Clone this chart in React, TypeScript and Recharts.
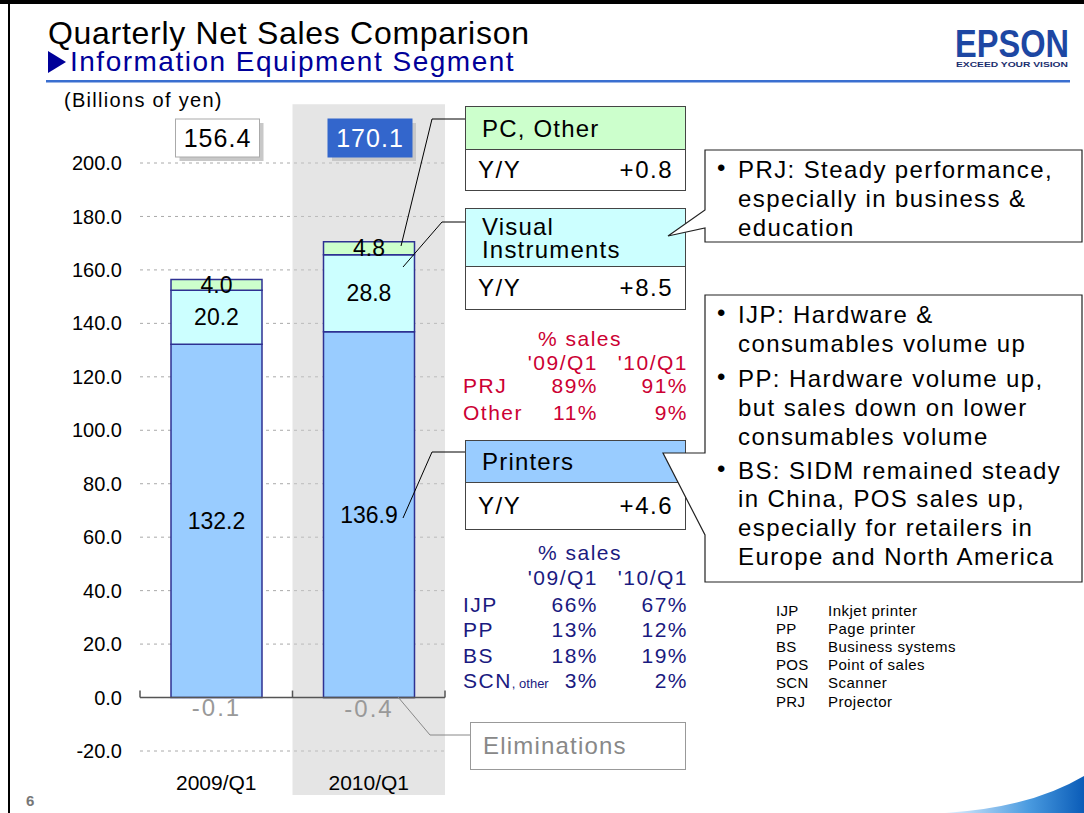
import {
  Bar,
  BarChart,
  CartesianGrid,
  LabelList,
  ReferenceArea,
  ReferenceLine,
  XAxis,
  YAxis,
} from 'recharts';

const quarters = ['2009/Q1', '2010/Q1'];
const printers = [132.2, 136.9];
const visual = [20.2, 28.8];
const pcOther = [4.0, 4.8];
const eliminations = [-0.1, -0.4];
const totals = [156.4, 170.1];
const yTicks = [-20, 0, 20, 40, 60, 80, 100, 120, 140, 160, 180, 200];

const segmentNames = ['PC, Other', 'Visual Instruments', 'Printers'];
const segmentYoY = ['+0.8', '+8.5', '+4.6'];

const shareCols = ["'09/Q1", "'10/Q1"];
const prjRows = ['PRJ', 'Other'];
const prj09 = ['89%', '11%'];
const prj10 = ['91%', '9%'];
const prnRows = ['IJP', 'PP', 'BS', 'SCN'];
const prn09 = ['66%', '13%', '18%', '3%'];
const prn10 = ['67%', '12%', '19%', '2%'];

const prjNotes = ['PRJ:  Steady performance,', 'especially in business &', 'education'];
const printerNotes = [
  ['IJP:  Hardware &', 'consumables volume up'],
  ['PP:  Hardware volume up,', 'but sales down on lower', 'consumables volume'],
  ['BS:  SIDM remained steady', 'in China, POS sales up,', 'especially for retailers in', 'Europe and North America'],
];

const abbrevs = ['IJP', 'PP', 'BS', 'POS', 'SCN', 'PRJ'];
const abbrevNames = ['Inkjet printer', 'Page printer', 'Business systems', 'Point of sales', 'Scanner', 'Projector'];

const data = quarters.map((quarter, i) => ({
  quarter,
  printers: printers[i],
  visual: visual[i],
  pcOther: pcOther[i],
  eliminations: eliminations[i],
  total: totals[i],
}));

const FONT = '"Liberation Sans", Arial, sans-serif';
const RED = '#cc0033';
const NAVY = '#1a1a80';

function Txt({ x, y, size, children, color = '#000', align = 'left', ls = 0, weight = 400 }: any) {
  const shift = align === 'right' ? 'translateX(-100%)' : align === 'center' ? 'translateX(-50%)' : undefined;
  return (
    <div
      style={{
        position: 'absolute',
        left: x,
        top: y - size / 2,
        fontSize: size,
        lineHeight: `${size}px`,
        color,
        letterSpacing: ls,
        fontWeight: weight,
        whiteSpace: 'nowrap',
        transform: shift,
        fontFamily: FONT,
      }}
    >
      {children}
    </div>
  );
}

function SegBox({ top, headH, rowH, fill, name, yoy }: any) {
  const lines = name === 'Visual Instruments' ? ['Visual', 'Instruments'] : [name];
  return (
    <div
      style={{
        position: 'absolute', left: 465, top, width: 221, height: headH + rowH,
        border: '1px solid #444', background: '#fff', boxSizing: 'border-box', fontFamily: FONT,
      }}
    >
      <div
        style={{
          height: headH - 1, background: fill, borderBottom: '1px solid #444', display: 'flex',
          flexDirection: 'column', justifyContent: 'center', paddingLeft: 16, fontSize: 24,
          lineHeight: '23px', letterSpacing: 1.2,
        }}
      >
        {lines.map((l) => <div key={l}>{l}</div>)}
      </div>
      <div
        style={{
          height: rowH - 2, display: 'flex', justifyContent: 'space-between', alignItems: 'center',
          padding: '0 12px', fontSize: 24, letterSpacing: 1.5,
        }}
      >
        <span>Y/Y</span>
        <span>{yoy}</span>
      </div>
    </div>
  );
}

// total box drawn above each stacked column
function TotalBox(props: any) {
  const { x, width, value } = props;
  const latest = value === totals[totals.length - 1];
  const cx = x + width / 2 + 1;
  const bx = cx - 42;
  return (
    <g>
      <rect x={bx + 4} y={123} width={84} height={38} fill="#c8c8c8" />
      <rect x={bx} y={119} width={84} height={38} fill={latest ? '#3366cc' : '#fff'} stroke={latest ? '#3366cc' : '#aaa'} />
      <text x={cx} y={147} textAnchor="middle" fontSize={25} letterSpacing={1} fill={latest ? '#fff' : '#000'} fontFamily={FONT}>
        {Number(value).toFixed(1)}
      </text>
    </g>
  );
}

function ElimLabel(props: any) {
  const { x, y, width, height, value } = props;
  const base = Math.max(y, y + height);
  return (
    <text x={x + width / 2} y={base + 18} textAnchor="middle" fontSize={24} letterSpacing={2} fill="#999" fontFamily={FONT}>
      {Number(value).toFixed(1)}
    </text>
  );
}

function AxisZero(props: any) {
  const { x1, y1, x2 } = props;
  const xm = (x1 + x2) / 2;
  return (
    <g stroke="#555" strokeWidth={1.5}>
      <line x1={x1} y1={y1} x2={x2} y2={y1} />
      {[x1, xm, x2].map((x) => <line key={x} x1={x} y1={y1} x2={x} y2={y1 - 7} />)}
    </g>
  );
}

export default function App() {
  const tick = { fill: '#000', fontSize: 20, fontFamily: FONT };
  const barStroke = { stroke: '#2e3192', strokeWidth: 1.5 };
  const barLabel = { fill: '#000', fontSize: 23, fontFamily: FONT };
  return (
    <div style={{ position: 'absolute', left: 0, top: 0, width: 1084, height: 813, background: '#fff', overflow: 'hidden', fontFamily: FONT }}>
      <div style={{ position: 'absolute', left: 0, top: 0 }}>
        <BarChart width={460} height={813} data={data} margin={{ top: 163, right: 15, bottom: 12, left: 40 }} stackOffset="sign" barSize={91}>
          <CartesianGrid vertical={false} stroke="#aaa" strokeDasharray="3 4" />
          {/* half-transparent band so the dashed grid still shows through it */}
          <ReferenceArea
            x1="2010/Q1"
            x2="2010/Q1"
            y1={-36.5}
            y2={222}
            fill="#cccccc"
            fillOpacity={0.5}
            stroke="none"
            ifOverflow="visible"
          />
          <XAxis dataKey="quarter" axisLine={false} tickLine={false} height={50} tickMargin={18} tick={{ ...tick, fontSize: 21 }} />
          <YAxis
            domain={[-20, 200]}
            ticks={yTicks}
            interval={0}
            width={100}
            axisLine={false}
            tickLine={false}
            tickMargin={12}
            tickFormatter={(v: number) => v.toFixed(1)}
            tick={tick}
          />
          <Bar dataKey="printers" stackId="s" fill="#99ccff" {...barStroke} isAnimationActive={false}>
            <LabelList dataKey="printers" position="center" formatter={(v: any) => Number(v).toFixed(1)} style={barLabel} />
          </Bar>
          <Bar dataKey="visual" stackId="s" fill="#ccffff" {...barStroke} isAnimationActive={false}>
            <LabelList dataKey="visual" position="center" formatter={(v: any) => Number(v).toFixed(1)} style={barLabel} />
          </Bar>
          <Bar dataKey="pcOther" stackId="s" fill="#ccffcc" {...barStroke} isAnimationActive={false}>
            <LabelList dataKey="pcOther" position="center" formatter={(v: any) => Number(v).toFixed(1)} style={barLabel} />
            <LabelList dataKey="total" content={TotalBox} />
          </Bar>
          <Bar dataKey="eliminations" stackId="s" fill="#999" isAnimationActive={false}>
            <LabelList dataKey="eliminations" content={ElimLabel} />
          </Bar>
          <ReferenceLine y={0} stroke="#555" shape={AxisZero} />
        </BarChart>
      </div>

      <svg width={1084} height={813} style={{ position: 'absolute', left: 0, top: 0, pointerEvents: 'none' }}>
        <defs>
          <linearGradient id="swoosh" x1="0" y1="0" x2="1" y2="0">
            <stop offset="0" stopColor="#e4f1ff" />
            <stop offset="0.6" stopColor="#4a9be0" />
            <stop offset="1" stopColor="#0a5cb8" />
          </linearGradient>
        </defs>
        <rect x={0} y={0} width={1084} height={4} fill="#000" />
        <rect x={8} y={0} width={2} height={813} fill="#000" />
        <rect x={46} y={80} width={1024} height={2.5} fill="#3a6fd0" />
        <polygon points="48,51 48,73 66,62" fill="#000099" />
        <text x={955} y={57} fontSize={38} fontWeight={900} fill="#1d47a3" textLength={114} lengthAdjust="spacingAndGlyphs" fontFamily={FONT}>EPSON</text>
        <text x={956} y={67} fontSize={7} fontWeight={700} fill="#1a2e6e" textLength={112} lengthAdjust="spacingAndGlyphs" fontFamily={FONT}>EXCEED YOUR VISION</text>
        <path d="M 945 813 Q 1030 808 1084 776 L 1084 813 Z" fill="url(#swoosh)" />

        <g stroke="#000" strokeWidth={1} fill="none">
          <polyline points="401,246 432,119 465,119" />
          <polyline points="403,267 442,222 465,222" />
          <polyline points="403,518 432,452 465,452" />
        </g>
        <polyline points="398,697 430,735 470,735" stroke="#888" strokeWidth={1} fill="none" />
      </svg>

      <Txt x={48} y={33} size={32} ls={0.7}>Quarterly Net Sales Comparison</Txt>
      <Txt x={70} y={62} size={28} ls={1.5} color="#000099">Information Equipment Segment</Txt>
      <Txt x={64} y={100} size={20} ls={1.3}>(Billions of yen)</Txt>
      <Txt x={26} y={800} size={15} weight={700} color="#777">6</Txt>

      <SegBox top={106} headH={43} rowH={42} fill="#ccffcc" name={segmentNames[0]} yoy={segmentYoY[0]} />
      <SegBox top={208} headH={58} rowH={44} fill="#ccffff" name={segmentNames[1]} yoy={segmentYoY[1]} />
      <SegBox top={440} headH={42} rowH={48} fill="#99ccff" name={segmentNames[2]} yoy={segmentYoY[2]} />
      <div
        style={{
          position: 'absolute', left: 470, top: 722, width: 216, height: 48, border: '1px solid #999',
          boxSizing: 'border-box', background: '#fff',
        }}
      />
      <Txt x={483} y={746} size={24} ls={1.2} color="#888">Eliminations</Txt>

      {/* callouts sit above the segment boxes so their tails show */}
      <svg width={1084} height={813} style={{ position: 'absolute', left: 0, top: 0, pointerEvents: 'none' }}>
        <path d="M705,150 H1082 V242 H705 V228 L668,236 L705,210 Z" fill="#fff" stroke="#222" strokeWidth={1.2} />
        <path d="M705,295 H1082 V582 H705 V535 L663,453 L705,453 Z" fill="#fff" stroke="#222" strokeWidth={1.2} />
      </svg>

      <Txt x={580} y={338} size={21} ls={1.5} color={RED} align="center">% sales</Txt>
      <Txt x={598} y={362} size={21} ls={1.5} color={RED} align="right">{shareCols[0]}</Txt>
      <Txt x={688} y={362} size={21} ls={1.5} color={RED} align="right">{shareCols[1]}</Txt>
      {prjRows.map((r, i) => (
        <div key={r}>
          <Txt x={463} y={385 + i * 27} size={21} ls={1.5} color={RED}>{r}</Txt>
          <Txt x={598} y={385 + i * 27} size={21} ls={1.5} color={RED} align="right">{prj09[i]}</Txt>
          <Txt x={688} y={385 + i * 27} size={21} ls={1.5} color={RED} align="right">{prj10[i]}</Txt>
        </div>
      ))}

      <Txt x={580} y={552} size={21} ls={1.5} color={NAVY} align="center">% sales</Txt>
      <Txt x={598} y={577} size={21} ls={1.5} color={NAVY} align="right">{shareCols[0]}</Txt>
      <Txt x={688} y={577} size={21} ls={1.5} color={NAVY} align="right">{shareCols[1]}</Txt>
      {prnRows.map((r, i) => (
        <div key={r}>
          <Txt x={463} y={604 + i * 25.5} size={21} ls={1.5} color={NAVY}>
            {r}
            {r === 'SCN' && <span style={{ fontSize: 13, letterSpacing: 0 }}>, other</span>}
          </Txt>
          <Txt x={598} y={604 + i * 25.5} size={21} ls={1.5} color={NAVY} align="right">{prn09[i]}</Txt>
          <Txt x={688} y={604 + i * 25.5} size={21} ls={1.5} color={NAVY} align="right">{prn10[i]}</Txt>
        </div>
      ))}

      {prjNotes.map((l, i) => (
        <Txt key={l} x={738} y={170 + i * 29} size={24} ls={1.4}>{l}</Txt>
      ))}
      <Txt x={717} y={168} size={24}>•</Txt>

      {(() => {
        let row = 0;
        return printerNotes.map((group) =>
          group.map((l, j) => {
            const y = 315 + row * 28.9 + (row >= 2 ? 6 : 0) + (row >= 5 ? 5 : 0);
            row += 1;
            return (
              <div key={l}>
                {j === 0 && <Txt x={717} y={y - 2} size={24}>•</Txt>}
                <Txt x={738} y={y} size={24} ls={1.4}>{l}</Txt>
              </div>
            );
          }),
        );
      })()}

      {abbrevs.map((a, i) => (
        <div key={a}>
          <Txt x={776} y={610 + i * 18.2} size={15} ls={0.3}>{a}</Txt>
          <Txt x={828} y={610 + i * 18.2} size={15} ls={0.5}>{abbrevNames[i]}</Txt>
        </div>
      ))}
    </div>
  );
}
